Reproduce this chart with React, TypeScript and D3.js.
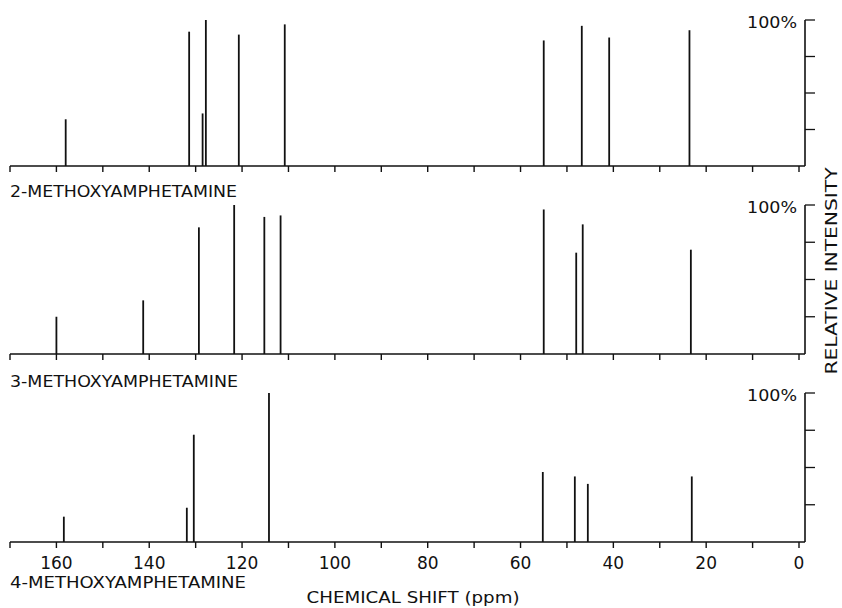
import React from "react";
import * as d3 from "d3";

// ---- data ----
const compounds = ["2-METHOXYAMPHETAMINE", "3-METHOXYAMPHETAMINE", "4-METHOXYAMPHETAMINE"];
const shifts2 = [158.0, 131.4, 128.5, 127.8, 120.7, 110.8, 55.0, 46.8, 40.9, 23.6];
const intens2 = [32, 92, 36, 100, 90, 97, 86, 96, 88, 93];
const shifts3 = [160.0, 141.3, 129.3, 121.7, 115.2, 111.7, 55.0, 48.0, 46.6, 23.3];
const intens3 = [25, 36, 85, 100, 92, 93, 97, 68, 87, 70];
const shifts4 = [158.4, 131.9, 130.4, 114.2, 55.2, 48.3, 45.5, 23.1];
const intens4 = [17, 23, 72, 100, 47, 44, 39, 44];
const xTicks = [170, 160, 150, 140, 130, 120, 110, 100, 90, 80, 70, 60, 50, 40, 30, 20, 10, 0];
const xTickLabels = [160, 140, 120, 100, 80, 60, 40, 20, 0];
const yTicks = [0, 25, 50, 75, 100];

const series = [
  { shifts: shifts2, intens: intens2 },
  { shifts: shifts3, intens: intens3 },
  { shifts: shifts4, intens: intens4 },
];

// ---- layout ----
const W = 842;
const H = 608;
const panelTops = [20, 205, 393];
const panelBases = [166, 354, 542];
const labelBaselines = [197, 387, 588];
const labelWidths = [227, 228, 236];
const axisX = 805;
const font = "'DejaVu Sans', 'Liberation Sans', Arial, sans-serif";

export default function App() {
  const x = d3.scaleLinear().domain([170, 0]).range([10, 799]);
  return (
    <svg
      width={W}
      height={H}
      style={{ position: "absolute", left: 0, top: 0, background: "#fff" }}
      fontFamily={font}
    >
      {series.map((s, i) => {
        const y = d3.scaleLinear().domain([0, 100]).range([panelBases[i], panelTops[i]]);
        const base = panelBases[i];
        return (
          <g key={i}>
            {/* baseline */}
            <line x1={x(170)} x2={axisX} y1={base} y2={base} stroke="#111" strokeWidth={1.6} />
            {xTicks.map((t) => (
              <line key={t} x1={x(t)} x2={x(t)} y1={base} y2={base + 6} stroke="#111" strokeWidth={1.4} />
            ))}
            {/* right intensity axis */}
            <line x1={axisX} x2={axisX} y1={y(100)} y2={base} stroke="#111" strokeWidth={1.6} />
            {yTicks
              .filter((t) => t > 0)
              .map((t) => (
                <line key={t} x1={axisX} x2={axisX + 10} y1={y(t)} y2={y(t)} stroke="#111" strokeWidth={1.3} />
              ))}
            <text x={797} y={y(100) + 8} textAnchor="end" fontSize={16} fill="#111" textLength={50} lengthAdjust="spacingAndGlyphs">
              100%
            </text>
            {/* peaks */}
            {s.shifts.map((p, j) => (
              <line
                key={j}
                x1={x(p)}
                x2={x(p)}
                y1={base}
                y2={y(s.intens[j])}
                stroke="#111"
                strokeWidth={1.8}
              />
            ))}
            {/* compound label */}
            <text
              x={10}
              y={labelBaselines[i]}
              fontSize={16}
              fill="#111"
              textLength={labelWidths[i]}
              lengthAdjust="spacingAndGlyphs"
            >
              {compounds[i]}
            </text>
          </g>
        );
      })}
      {/* x tick labels on bottom panel */}
      {xTickLabels.map((t) => (
        <text key={t} x={x(t)} y={569} textAnchor="middle" fontSize={17} fill="#111">
          {t}
        </text>
      ))}
      <text x={413} y={603} textAnchor="middle" fontSize={15} fill="#111" textLength={213} lengthAdjust="spacingAndGlyphs">
        CHEMICAL SHIFT (ppm)
      </text>
      <text
        transform={`translate(837, 271) rotate(-90)`}
        textAnchor="middle"
        fontSize={15}
        fill="#111"
        textLength={207}
        lengthAdjust="spacingAndGlyphs"
      >
        RELATIVE  INTENSITY
      </text>
    </svg>
  );
}
